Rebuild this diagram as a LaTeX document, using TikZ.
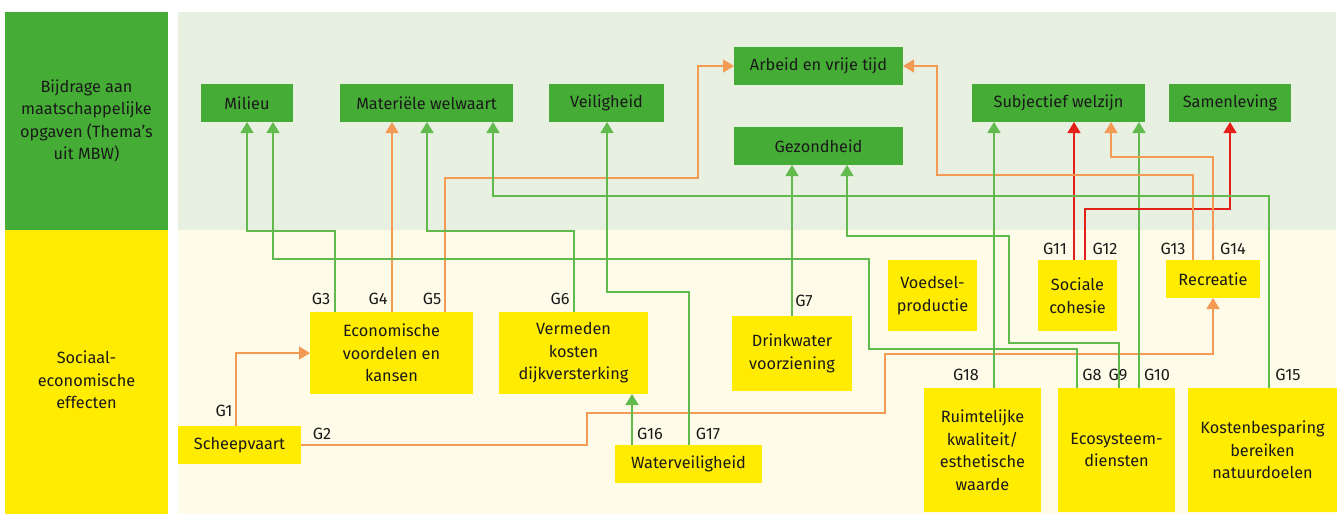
\documentclass[tikz,border=0pt]{standalone}
\usepackage{fontspec}
\setmainfont{Fira Sans}
\usetikzlibrary{arrows.meta}
\definecolor{thgreen}{RGB}{69,173,53}
\definecolor{effyellow}{RGB}{255,236,0}
\definecolor{bggreen}{RGB}{232,240,225}
\definecolor{bgyellow}{RGB}{254,252,232}
\definecolor{lgreen}{RGB}{98,186,78}
\definecolor{lorange}{RGB}{243,154,84}
\definecolor{lred}{RGB}{228,32,27}
\definecolor{ink}{RGB}{26,26,26}
\begin{document}
\begin{tikzpicture}[x=1pt,y=-1pt,
  font=\fontsize{16.3}{22.5}\selectfont,
  sidepanel/.style={inner sep=0, outer sep=0, align=center, text=ink},
  theme/.style={fill=thgreen, inner sep=0, outer sep=0, minimum height=38, text=ink},
  effect/.style={fill=effyellow, inner sep=0, outer sep=0, align=center, text=ink},
  link/.style={line width=1.5pt, -{Triangle[width=13pt,length=11pt]}},
  glink/.style={link, draw=lgreen},
  olink/.style={link, draw=lorange},
  rlink/.style={link, draw=lred},
  tag/.style={inner sep=0, text=ink}]
\useasboundingbox (0,0) rectangle (1339,515);

% background bands
\node[sidepanel, fill=thgreen, minimum width=163, minimum height=218] (themes) at (86.5,121)
  {Bijdrage aan\\maatschappelijke\\opgaven (Thema’s\\uit MBW)};
\node[sidepanel, fill=effyellow, minimum width=163, minimum height=284] (effects) at (86.5,372) {};
\node[sidepanel] (effectstext) at (86.5,380) {Sociaal-\\economische\\effecten};
\node[sidepanel, fill=bggreen, minimum width=1158, minimum height=218] (topband) at (757,121) {};
\node[sidepanel, fill=bgyellow, minimum width=1158, minimum height=284] (bottomband) at (757,372) {};

% themes
\node[theme, minimum width=92]  (milieu) at (247,103)    {Milieu};
\node[theme, minimum width=173] (welv)   at (426.5,103)  {Materiële welwaart};
\node[theme, minimum width=115] (veil)   at (606.5,103)  {Veiligheid};
\node[theme, minimum width=169] (arbeid) at (818.5,66)   {Arbeid en vrije tijd};
\node[theme, minimum width=169] (gezond) at (818.5,146)  {Gezondheid};
\node[theme, minimum width=173] (subj)   at (1058.5,103) {Subjectief welzijn};
\node[theme, minimum width=122] (samen)  at (1230,103)   {Samenleving};

% effects
\node[effect, minimum width=163, minimum height=82]  (econ)    at (391.5,353)  {Economische\\voordelen en\\kansen};
\node[effect, minimum width=123, minimum height=38]  (scheep)  at (239.5,445)  {Scheepvaart};
\node[effect, minimum width=149, minimum height=82]  (verm)    at (573.5,353)  {Vermeden\\kosten\\dijkversterking};
\node[effect, minimum width=147, minimum height=38]  (water)   at (688.5,464)  {Waterveiligheid};
\node[effect, minimum width=120, minimum height=75]  (drink)   at (792,353.5)  {Drinkwater\\voorziening};
\node[effect, minimum width=89,  minimum height=71]  (voedsel) at (932.5,295.5) {Voedsel-\\productie};
\node[effect, minimum width=79,  minimum height=71]  (sociaal) at (1077.5,295.5) {Sociale\\cohesie};
\node[effect, minimum width=94,  minimum height=38]  (recr)    at (1213,279)   {Recreatie};
\node[effect, minimum width=117, minimum height=124] (ruimt)   at (982.5,450)  {Ruimtelijke\\kwaliteit/\\esthetische\\waarde};
\node[effect, minimum width=117, minimum height=124] (eco)     at (1116.5,450) {Ecosysteem-\\diensten};
\node[effect, minimum width=149, minimum height=124] (kosten)  at (1262.5,450) {Kostenbesparing\\bereiken\\natuurdoelen};

% connections
\draw[olink] ([xshift=-3.5]scheep.north) |- (econ.west);
\draw[olink] (scheep.east) -| (587,413) -| (885,354) -| (recr.south);
\draw[glink] ([xshift=-56.5]econ.north) |- (247,231) -- (milieu.south);
\draw[olink] ([xshift=0.5]econ.north) -- ([xshift=-34.5]welv.south);
\draw[olink] ([xshift=53.5]econ.north) |- (698,178) |- (arbeid.west);
\draw[glink] ([xshift=0.5]verm.north) |- (427,231) -- ([xshift=0.5]welv.south);
\draw[glink] (drink.north) -- ([xshift=-26.5]gezond.south);
\draw[glink] ([xshift=-39.5]eco.north) |- (869,349) |- (273,259) -- ([xshift=26]milieu.south);
\draw[glink] ([xshift=2.5]eco.north) |- (1009,343) |- (847,236) -- ([xshift=28.5]gezond.south);
\draw[glink] ([xshift=22.5]eco.north) -- ([xshift=80.5]subj.south);
\draw[rlink] ([xshift=-3.5]sociaal.north) -- ([xshift=15.5]subj.south);
\draw[rlink] ([xshift=7.5]sociaal.north) |- (1230,209) -- (samen.south);
\draw[olink] ([xshift=-20]recr.north) |- (937,175) |- (arbeid.east);
\draw[olink] (recr.north) |- (1111,157) -- ([xshift=52.5]subj.south);
\draw[glink] ([xshift=6.5]kosten.north) |- (493,196) -- ([xshift=66.5]welv.south);
\draw[glink] ([xshift=-56.5]water.north) -- ([xshift=58.5]verm.south);
\draw[glink] ([xshift=0.5]water.north) |- (607,292) -- ([xshift=0.5]veil.south);
\draw[glink] ([xshift=11.5]ruimt.north) -- ([xshift=-64.5]subj.south);

% connection labels
\node[tag] (g1)  at (224,411)  {G1};
\node[tag] (g2)  at (322,434)  {G2};
\node[tag] (g3)  at (321,299)  {G3};
\node[tag] (g4)  at (378,299)  {G4};
\node[tag] (g5)  at (432,299)  {G5};
\node[tag] (g6)  at (560,299)  {G6};
\node[tag] (g7)  at (804,301)  {G7};
\node[tag] (g8)  at (1092,375) {G8};
\node[tag] (g9)  at (1118,375) {G9};
\node[tag] (g10) at (1157,375) {G10};
\node[tag] (g11) at (1055,249) {G11};
\node[tag] (g12) at (1105,249) {G12};
\node[tag] (g13) at (1173,249) {G13};
\node[tag] (g14) at (1233,249) {G14};
\node[tag] (g15) at (1288,375) {G15};
\node[tag] (g16) at (650,434)  {G16};
\node[tag] (g17) at (708,434)  {G17};
\node[tag] (g18) at (966,375)  {G18};
\end{tikzpicture}
\end{document}
